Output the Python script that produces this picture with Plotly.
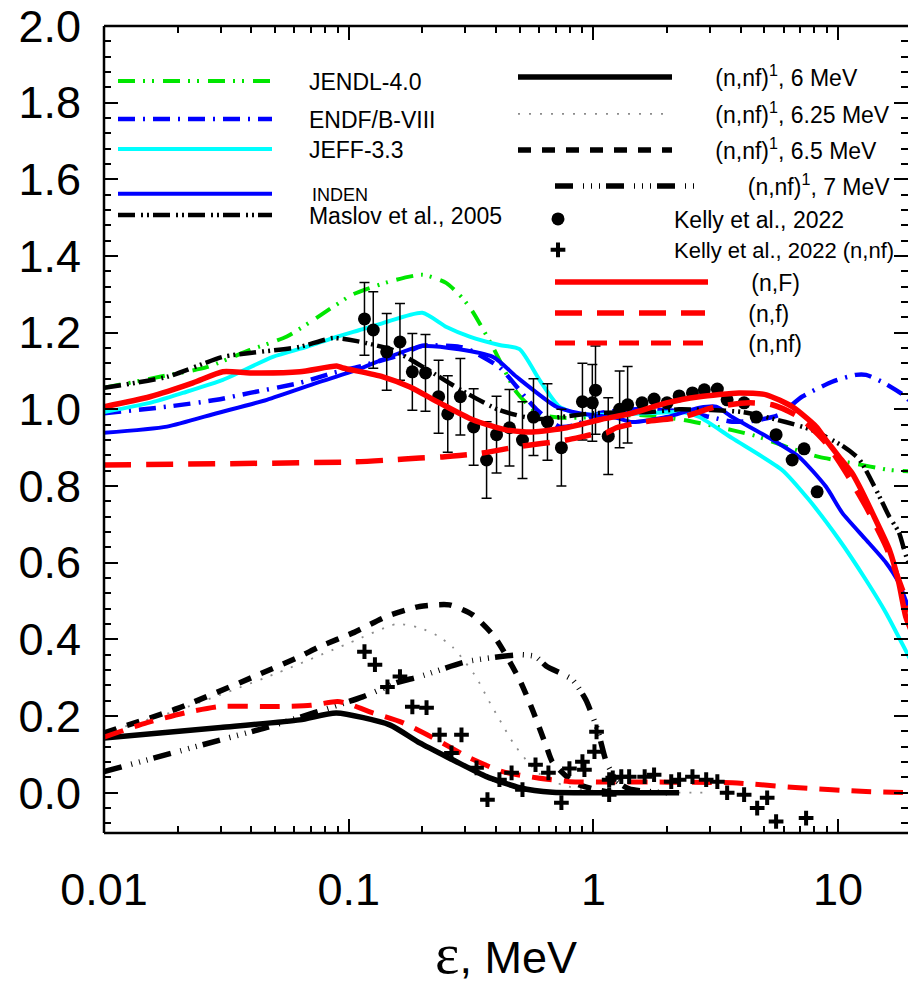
import plotly.graph_objects as go

# ---------------- data ----------------
jendl_e = [0.01, 0.0169, 0.0263, 0.0395, 0.0559, 0.0861, 0.104, 0.15, 0.2, 0.25, 0.292, 0.321, 0.388, 0.485, 0.6, 0.75, 1.06, 1.54, 2.31, 3.69, 4.76, 6.31, 8.36, 11.4, 16.2, 20]
jendl_y = [1.056, 1.085, 1.11, 1.155, 1.19, 1.267, 1.30, 1.335, 1.351, 1.33, 1.29, 1.255, 1.163, 1.045, 0.988, 0.978, 0.98, 0.985, 0.973, 0.946, 0.928, 0.90, 0.876, 0.86, 0.842, 0.838]

endf_e = [0.01, 0.0181, 0.0289, 0.0395, 0.0631, 0.0861, 0.108, 0.162, 0.2, 0.284, 0.312, 0.413, 0.53, 0.585, 0.726, 0.85, 1.06, 1.5, 2.3, 3.0, 3.69, 4.5, 5.74, 7.13, 9.46, 11.8, 13.0, 15.1, 18.9, 20]
endf_y = [0.99, 1.007, 1.025, 1.043, 1.069, 1.095, 1.11, 1.142, 1.166, 1.163, 1.155, 1.11, 1.03, 1.0, 0.955, 0.96, 0.99, 1.0, 0.995, 0.98, 0.968, 0.97, 0.986, 1.033, 1.072, 1.09, 1.09, 1.072, 1.033, 1.015]

jeff_e = [0.01, 0.0154, 0.021, 0.0306, 0.049, 0.0674, 0.0861, 0.111, 0.138, 0.2, 0.251, 0.312, 0.413, 0.499, 0.602, 0.726, 0.877, 1.24, 2.31, 2.71, 3.69, 5.9, 7.6, 10.1, 13.0, 15.7, 19.1, 20]
jeff_y = [0.993, 1.017, 1.043, 1.077, 1.137, 1.163, 1.186, 1.207, 1.225, 1.252, 1.215, 1.19, 1.168, 1.157, 1.077, 1.007, 0.988, 0.986, 0.993, 0.98, 0.925, 0.842, 0.764, 0.66, 0.555, 0.469, 0.365, 0.34]

inden_e = [0.01, 0.0181, 0.0289, 0.0463, 0.074, 0.108, 0.2, 0.388, 0.485, 0.706, 0.877, 1.24, 1.44, 1.99, 2.71, 3.18, 3.69, 5.09, 6.93, 8.93, 10.4, 13.0, 15.7, 17.7, 19.1, 20]
inden_y = [0.939, 0.955, 0.99, 1.025, 1.069, 1.103, 1.165, 1.137, 1.085, 1.007, 0.99, 0.978, 0.967, 0.98, 1.004, 1.007, 0.98, 0.93, 0.876, 0.798, 0.73, 0.66, 0.60, 0.548, 0.495, 0.47]

maslov_e = [0.01, 0.0181, 0.0306, 0.0395, 0.0631, 0.0861, 0.108, 0.151, 0.208, 0.292, 0.413, 0.585, 1.0, 1.7, 2.24, 4.06, 6.1, 7.83, 10.4, 12.2, 14.3, 16.2, 17.7, 18.9, 20]
maslov_y = [1.056, 1.085, 1.137, 1.147, 1.163, 1.186, 1.178, 1.155, 1.105, 1.048, 0.998, 0.975, 0.99, 0.993, 1.0, 0.993, 0.967, 0.946, 0.905, 0.87, 0.79, 0.72, 0.68, 0.62, 0.58]

nF_e = [0.01, 0.0154, 0.0231, 0.0306, 0.0395, 0.0631, 0.0893, 0.0946, 0.138, 0.177, 0.235, 0.321, 0.442, 0.564, 0.776, 1.06, 1.44, 1.99, 2.71, 3.94, 5.09, 6.49, 8.13, 8.93, 10.1, 11.4, 12.2, 13.8, 16.2, 17.7, 18.9, 20]
nF_y = [1.007, 1.033, 1.069, 1.098, 1.095, 1.098, 1.113, 1.108, 1.085, 1.059, 1.017, 0.973, 0.946, 0.941, 0.952, 0.973, 0.99, 1.017, 1.033, 1.043, 1.038, 1.007, 0.955, 0.92, 0.876, 0.834, 0.80, 0.73, 0.634, 0.548, 0.459, 0.42]

nf_e = [0.01, 0.104, 0.147, 0.195, 0.242, 0.352, 0.485, 0.776, 1.0, 1.13, 1.24, 1.58, 2.31, 3.18, 4.33, 5.38, 6.93, 8.93, 10.8, 13.0, 15.7, 18.3, 20]
nf_y = [0.855, 0.863, 0.868, 0.873, 0.876, 0.886, 0.902, 0.92, 0.935, 0.939, 0.952, 0.967, 0.98, 1.007, 1.017, 1.012, 0.98, 0.912, 0.834, 0.746, 0.642, 0.53, 0.46]

nnf_e = [0.01, 0.015, 0.022, 0.03, 0.05, 0.07, 0.09, 0.1, 0.122, 0.166, 0.229, 0.312, 0.425, 0.585, 0.8, 1.06, 3.69, 6.93, 13.0, 20.0]
nnf_y = [0.145, 0.183, 0.21, 0.225, 0.225, 0.228, 0.238, 0.232, 0.211, 0.183, 0.138, 0.091, 0.055, 0.039, 0.029, 0.028, 0.026, 0.013, 0.003, 0.0]

n6_e = [0.01, 0.03, 0.063, 0.089, 0.147, 0.195, 0.266, 0.366, 0.5, 0.68, 1.0, 2.24]
n6_y = [0.143, 0.17, 0.19, 0.208, 0.177, 0.13, 0.086, 0.042, 0.013, 0.001, 0.0, 0.0]

n625_e = [0.01, 0.02, 0.05, 0.1, 0.157, 0.195, 0.23, 0.266, 0.3, 0.333, 0.37, 0.42, 0.47, 0.53, 0.6, 0.75, 1.0, 3.0]
n625_y = [0.157, 0.215, 0.31, 0.39, 0.44, 0.43, 0.41, 0.38, 0.34, 0.30, 0.245, 0.183, 0.13, 0.086, 0.05, 0.02, 0.005, 0.0]

n65_e = [0.01, 0.02, 0.04, 0.063, 0.076, 0.104, 0.143, 0.195, 0.258, 0.321, 0.394, 0.499, 0.564, 0.643, 0.68, 0.836, 1.0, 1.2]
n65_y = [0.156, 0.22, 0.30, 0.355, 0.381, 0.417, 0.46, 0.486, 0.49, 0.464, 0.407, 0.295, 0.216, 0.12, 0.08, 0.026, 0.01, 0.0]

n7_e = [0.01, 0.03, 0.046, 0.114, 0.157, 0.195, 0.303, 0.5, 0.58, 0.643, 0.82, 0.93, 1.04, 1.13, 1.25, 1.4, 2.0]
n7_y = [0.055, 0.138, 0.17, 0.25, 0.287, 0.303, 0.342, 0.36, 0.355, 0.33, 0.295, 0.243, 0.164, 0.08, 0.03, 0.01, 0.0]

kelly_e = [0.116, 0.126, 0.143, 0.162, 0.182, 0.206, 0.233, 0.254, 0.286, 0.324, 0.366, 0.402, 0.454, 0.513, 0.569, 0.649, 0.74, 0.902, 0.99, 1.02, 1.15, 1.28, 1.38, 1.58, 1.77, 2.0, 2.24, 2.54, 2.84, 3.21, 3.52, 4.13, 4.63, 5.58, 6.49, 7.26, 8.21]
kelly_y = [1.236, 1.207, 1.15, 1.176, 1.098, 1.095, 1.033, 0.988, 1.033, 0.954, 0.868, 0.934, 0.952, 0.92, 0.98, 0.967, 0.9, 1.02, 1.017, 1.05, 0.93, 1.0, 1.012, 1.017, 1.027, 1.017, 1.035, 1.043, 1.051, 1.053, 1.025, 1.017, 0.98, 0.934, 0.868, 0.897, 0.785]
kelly_err = [0.095, 0.1, 0.1, 0.1, 0.1, 0.1, 0.095, 0.1, 0.1, 0.1, 0.1, 0.1, 0.1, 0.1, 0.1, 0.1, 0.1, 0.1, 0.1, 0.115, 0.1, 0.1, 0.1, 0, 0, 0, 0, 0, 0, 0, 0, 0, 0, 0, 0, 0, 0]

kn_e = [0.116, 0.128, 0.144, 0.162, 0.182, 0.208, 0.235, 0.263, 0.289, 0.333, 0.369, 0.413, 0.463, 0.513, 0.58, 0.655, 0.74, 0.798, 0.902, 0.919, 1.01, 1.03, 1.16, 1.16, 1.2, 1.3, 1.4, 1.62, 1.77, 2.08, 2.24, 2.54, 2.89, 3.21, 3.52, 4.13, 4.67, 5.13, 5.58, 7.4]
kn_y = [0.368, 0.334, 0.276, 0.303, 0.224, 0.222, 0.151, 0.104, 0.151, 0.065, -0.018, 0.034, 0.052, 0.008, 0.073, 0.052, -0.026, 0.063, 0.081, 0.06, 0.107, 0.159, 0.034, -0.005, 0.039, 0.042, 0.042, 0.042, 0.047, 0.029, 0.034, 0.042, 0.034, 0.029, 0.0, -0.005, -0.04, -0.013, -0.075, -0.066]

x_tick_vals = [0.01, 0.1, 1, 10]
x_tick_text = ["0.01", "0.1", "1", "10"]
y_tick_vals = [0.0, 0.2, 0.4, 0.6, 0.8, 1.0, 1.2, 1.4, 1.6, 1.8, 2.0]
y_tick_text = ["0.0", "0.2", "0.4", "0.6", "0.8", "1.0", "1.2", "1.4", "1.6", "1.8", "2.0"]

# ---------------- layout geometry ----------------
W, H = 908, 986
L, T = 104, 26
PW, PH = W - L, 807
FONT = "Liberation Sans, Arial, sans-serif"
NB = "\u00a0"


def px_x(px):
    return (px - L) / PW


def px_y(py):
    return (T + PH - py) / PH


fig = go.Figure()


def add_line(x, y, name, color, width, dash, legend, shape="spline"):
    fig.add_trace(go.Scatter(
        x=x, y=y, mode="lines", name=name, legend=legend,
        line=dict(color=color, width=width, dash=dash, shape=shape, smoothing=0.6),
    ))


GREEN, BLUE, CYAN, RED, BLK = "#00e600", "#0000ff", "#00ffff", "#ff0000", "#000000"

add_line(n625_e, n625_y, "(n,nf)<sup>1</sup>, 6.25 MeV", "#8c8c8c", 1.8, "2px,9px", "legend7")
add_line(n6_e, n6_y, "(n,nf)<sup>1</sup>, 6 MeV", BLK, 5.5, "solid", "legend6")
add_line(n65_e, n65_y, "(n,nf)<sup>1</sup>, 6.5 MeV", BLK, 5.5, "13px,11px", "legend8")
add_line(n7_e, n7_y, "(n,nf)<sup>1</sup>, 7 MeV", BLK, 5.5, "18px,10px,1px,7px,1px,7px,1px,6px", "legend9")
add_line(nnf_e, nnf_y, "(n,nf)", RED, 5, "20px,12px", "legend14")

add_line(jendl_e, jendl_y, "JENDL-4.0", GREEN, 4, "17px,8px,2px,7px,2px,9px", "legend")
add_line(endf_e, endf_y, "ENDF/B-VIII", BLUE, 4.5, "17px,8px,2px,8px", "legend2")
add_line(jeff_e, jeff_y, "JEFF-3.3", CYAN, 4, "solid", "legend3")
add_line(inden_e, inden_y, "INDEN", BLUE, 4, "solid", "legend4")
add_line(maslov_e, maslov_y, "Maslov et al., 2005", BLK, 4.5, "17px,6px,2px,4px,2px,4px", "legend5")

fig.add_trace(go.Scatter(
    x=kelly_e, y=kelly_y, mode="markers", name="Kelly et al., 2022", legend="legend10",
    marker=dict(symbol="circle", size=13, color=BLK),
    error_y=dict(type="data", array=kelly_err, visible=True, color=BLK, thickness=1.5, width=5),
))
fig.add_trace(go.Scatter(
    x=kn_e, y=kn_y, mode="markers", name="Kelly et al., 2022 (n,nf)", legend="legend11",
    marker=dict(symbol="cross-thin", size=10.5, color=BLK, line=dict(color=BLK, width=4)),
))

add_line(nf_e, nf_y, "(n,f)", RED, 5.5, "27px,15px", "legend13")
add_line(nF_e, nF_y, "(n,F)", RED, 5.5, "solid", "legend12")

# ---------------- legends (one per row, to reproduce the free layout) ----------------
leg_rows = {
    # key: (left px, sample y px, itemwidth, font size, padding nbsp)
    "legend":   (113, 79, 154, 23, 5),
    "legend2":  (113, 117, 154, 23, 5),
    "legend3":  (113, 147, 154, 23, 5),
    "legend4":  (113, 192, 154, 18, 7),
    "legend5":  (113, 213, 154, 23, 5),
    "legend6":  (513, 75, 154, 23, 6),
    "legend7":  (513, 112, 154, 23, 6),
    "legend8":  (513, 148, 154, 23, 6),
    "legend9":  (550, 184, 143, 23, 7),
    "legend10": (442, 217, 222, 23, 0),
    "legend11": (442, 248, 222, 22, 0),
    "legend12": (550, 280, 153, 23, 6),
    "legend13": (550, 311, 150, 23, 6),
    "legend14": (550, 341, 150, 23, 6),
}
pads = {}
for key, (lx, sy, iw, fs, npad) in leg_rows.items():
    pads[key] = NB * npad
    fig.update_layout({key: dict(
        x=px_x(lx), y=px_y(sy + 2), xanchor="left", yanchor="middle",
        xref="paper", yref="paper", itemwidth=iw,
        font=dict(family=FONT, size=fs, color="black"),
        bgcolor="rgba(0,0,0,0)", borderwidth=0, tracegroupgap=0,
        itemclick=False, itemdoubleclick=False,
    )})
for tr in fig.data:
    tr.name = pads[tr.legend] + tr.name

axis_common = dict(
    showgrid=False, zeroline=False, showline=False, mirror="ticks",
    ticks="inside", tickcolor="black", tickwidth=2, ticklen=14,
    tickfont=dict(family=FONT, size=45, color="black"),
)
fig.update_xaxes(
    type="log", range=[-2, -2 + PW / 244.7],
    tickvals=x_tick_vals, ticktext=x_tick_text, ticklabelstandoff=26,
    minor=dict(ticks="inside", ticklen=7, tickwidth=2, tickcolor="black",
               tickvals=[k * 10.0 ** d for d in range(-2, 2) for k in range(2, 10)]),
    title=dict(text="<span style='font-family:Liberation Serif;font-size:58px'>\u03b5</span>, MeV",
               font=dict(family=FONT, size=45, color="black"), standoff=30),
    **axis_common,
)
fig.update_yaxes(
    range=[-0.105, 2.0], tickvals=y_tick_vals, ticktext=y_tick_text, ticklabelstandoff=22,
    minor=dict(ticks="inside", ticklen=7, tickwidth=2, tickcolor="black", dtick=0.04, tick0=0),
    **axis_common,
)

# axis frame lines (left, bottom, top); the right edge is cut off in the reference
for x0, y0, x1, y1 in [(0, 0, 0, 1), (0, 0, 1, 0), (0, 1, 1, 1)]:
    fig.add_shape(type="line", xref="paper", yref="paper", x0=x0, y0=y0, x1=x1, y1=y1,
                  line=dict(color="black", width=2.5), layer="above")

fig.update_layout(
    width=W, height=H,
    margin=dict(l=L, r=0, t=T, b=H - T - PH, autoexpand=False),
    paper_bgcolor="white", plot_bgcolor="white",
    font=dict(family=FONT, color="black"),
    showlegend=True,
)

fig.write_html("out.html")
